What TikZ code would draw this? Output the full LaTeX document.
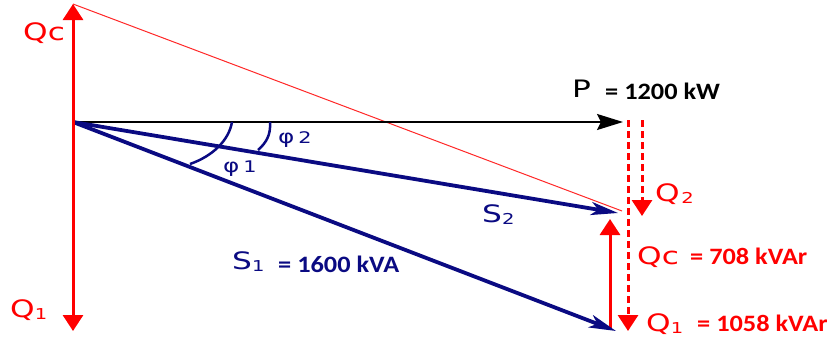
\documentclass[tikz,border=0pt]{standalone}
\usepackage{fontspec}
\setmainfont{DejaVu Sans}
\newfontfamily\wf[FakeStretch=1.3]{DejaVu Sans}
\newfontfamily\cb[FakeStretch=1.12]{Carlito Bold}
\usetikzlibrary{arrows.meta}
\definecolor{rd}{RGB}{255,0,0}
\definecolor{thinrd}{RGB}{255,40,40}
\definecolor{nv}{RGB}{10,10,130}
\newcommand{\biglab}[1]{{\wf\fontsize{24}{24}\selectfont #1}}
\newcommand{\subd}[1]{\raisebox{-2pt}{\wf\fontsize{15}{15}\selectfont #1}}
\newcommand{\val}[1]{{\cb\fontsize{23.5}{23.5}\selectfont #1}}
\newcommand{\philab}[1]{{\wf\fontsize{19}{19}\selectfont φ}\hspace{4pt}{\wf\fontsize{16}{16}\selectfont #1}}
\begin{document}
\begin{tikzpicture}[x=1pt,y=-1pt,
  redhead/.style={-{Triangle[length=16pt,width=20pt]}},
  redsolid/.style={draw=rd,line width=3pt},
  reddash/.style={draw=rd,line width=3pt,dash pattern=on 7pt off 4pt},
  bluevec/.style={draw=nv,line width=3.8pt,-{Stealth[length=27pt,width=13pt,inset=7pt]}},
  bluearc/.style={draw=nv,line width=2.5pt},
  pvec/.style={draw=black,line width=2pt,-{Stealth[length=26pt,width=16pt,inset=4pt]}},
  lbl/.style={inner sep=0pt,anchor=base west}]
\useasboundingbox[fill=white] (0,0) rectangle (827,340);
% coordinates
\coordinate (O) at (73,122);
\coordinate (QcTop) at (73,4);
\coordinate (Q1Bot) at (73,331);
\coordinate (Ptip) at (623,122);
\coordinate (S2tip) at (618,213);
\coordinate (S1tip) at (616,331);
\coordinate (ThinEnd) at (622,211);
\coordinate (D1top) at (628,120);
\coordinate (D1bot) at (628,331);
\coordinate (D2top) at (642,120);
\coordinate (D2bot) at (642,216);
\coordinate (Cbot) at (610,329);
\coordinate (Ctop) at (610,219);
% thin red line
\draw[draw=thinrd,line width=1pt] (QcTop) -- (ThinEnd);
% P vector
\draw[pvec] (O) -- (Ptip);
% dashed reactive vectors
\draw[reddash,redhead] (D1top) -- (D1bot);
\draw[reddash,redhead] (D2top) -- (D2bot);
% compensation arrow
\draw[redsolid,redhead] (Cbot) -- (Ctop);
% apparent power vectors
\draw[bluevec] (O) -- (S2tip);
\draw[bluevec] (O) -- (S1tip);
% angle arcs
\coordinate (A2a) at (270,122);
\coordinate (A2b) at (258,150);
\coordinate (A1a) at (232,122);
\coordinate (A1b) at (190,164);
\draw[bluearc] (A2a) .. controls (271,135) and (266,143) .. (A2b);
\draw[bluearc] (A1a) .. controls (229,140) and (213,156) .. (A1b);
% red vertical
\draw[redsolid,{Triangle[length=16pt,width=20pt]}-{Triangle[length=16pt,width=20pt]}] (QcTop) -- (Q1Bot);
% labels
\node[lbl,text=rd] (lQcL) at (23,40) {\biglab{Qc}};
\node[lbl,text=rd] (lQ1L) at (10,317) {\biglab{Q}\subd{1}};
\node[lbl,text=black] (lP) at (572,97) {\biglab{P}};
\node[lbl,text=black] (lPv) at (605,99) {\val{= 1200 kW}};
\node[lbl,text=rd] (lQ2) at (655,201) {\biglab{Q}\,\subd{2}};
\node[lbl,text=rd] (lQcR) at (637,264) {\biglab{Qc}};
\node[lbl,text=rd] (lQcv) at (690,264) {\val{= 708 kVAr}};
\node[lbl,text=rd] (lQ1R) at (646,331) {\biglab{Q}\subd{1}};
\node[lbl,text=rd] (lQ1v) at (697,331) {\val{= 1058 kVAr}};
\node[lbl,text=nv] (lS2) at (482,222) {\biglab{S}\subd{2}};
\node[lbl,text=nv] (lS1) at (232,269) {\biglab{S}\subd{1}};
\node[lbl,text=nv] (lS1v) at (278,272) {\val{= 1600 kVA}};
\node[lbl,text=nv] (lphi2) at (278,143) {\philab{2}};
\node[lbl,text=nv] (lphi1) at (223,172) {\philab{1}};
\end{tikzpicture}
\end{document}
